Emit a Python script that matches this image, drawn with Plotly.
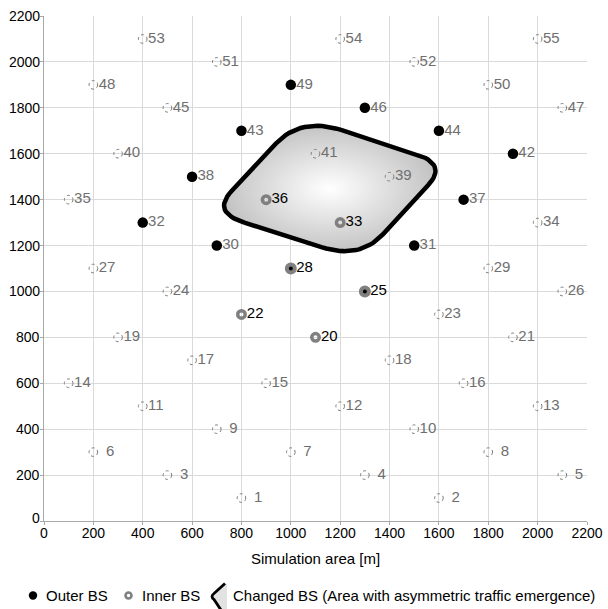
import plotly.graph_objects as go

# ---------------- data ----------------
bs_ids = list(range(1, 56))
bs_x = [800, 1600, 500, 1300, 2100, 200, 1000, 1800, 700, 1500,
        400, 1200, 2000, 100, 900, 1700, 600, 1400, 300, 1100,
        1900, 800, 1600, 500, 1300, 2100, 200, 1000, 1800, 700,
        1500, 400, 1200, 2000, 100, 900, 1700, 600, 1400, 300,
        1100, 1900, 800, 1600, 500, 1300, 2100, 200, 1000, 1800,
        700, 1500, 400, 1200, 2000]
bs_y = [100, 100, 200, 200, 200, 300, 300, 300, 400, 400,
        500, 500, 500, 600, 600, 600, 700, 700, 800, 800,
        800, 900, 900, 1000, 1000, 1000, 1100, 1100, 1100, 1200,
        1200, 1300, 1300, 1300, 1400, 1400, 1400, 1500, 1500, 1600,
        1600, 1600, 1700, 1700, 1800, 1800, 1800, 1900, 1900, 1900,
        2000, 2000, 2100, 2100, 2100]

outer_ids = [30, 31, 32, 37, 38, 42, 43, 44, 46, 49]
inner_ids = [20, 22, 33, 36]
changed_ids = [25, 28]

# vertices of changed-BS area (parallelogram, rounded corners)
area_x = [680, 1040, 1635, 1280]
area_y = [1345, 1760, 1555, 1140]

x_ticks = list(range(0, 2201, 200))
y_ticks = list(range(0, 2201, 200))

legend_names = ["Outer BS", "Inner BS",
                "Changed BS (Area with asymmetric traffic emergence)"]

# ---------------- helpers ----------------
pos = {i: (x, y) for i, x, y in zip(bs_ids, bs_x, bs_y)}
special = set(outer_ids) | set(inner_ids) | set(changed_ids)
regular_ids = [i for i in bs_ids if i not in special]


def rounded_polygon(xs, ys, fracs, n=16):
    px, py = [], []
    m = len(xs)
    for k in range(m):
        f = fracs[k]
        xp, yp = xs[k - 1], ys[k - 1]
        xc, yc = xs[k], ys[k]
        xn, yn = xs[(k + 1) % m], ys[(k + 1) % m]
        ax, ay = xc + (xp - xc) * f, yc + (yp - yc) * f
        bx, by = xc + (xn - xc) * f, yc + (yn - yc) * f
        for j in range(n + 1):
            t = j / n
            px.append((1 - t) ** 2 * ax + 2 * (1 - t) * t * xc + t ** 2 * bx)
            py.append((1 - t) ** 2 * ay + 2 * (1 - t) * t * yc + t ** 2 * by)
    px.append(px[0])
    py.append(py[0])
    return px, py


def label(i):
    return ("\u00a0\u2009" + str(i)) if i < 10 else str(i)


FONT = "Liberation Sans, Arial, sans-serif"
GRAY_TXT = "#6f6f6f"
RING = "#808080"

W, H = 608, 609
ML, MR, MT, MB = 44, 21, 16, 88
PW, PH = W - ML - MR, H - MT - MB


def px2paper(px, py):
    return (px - ML) / PW, (H - MB - py) / PH


fig = go.Figure()

# changed area
ax_, ay_ = rounded_polygon(area_x, area_y, [0.22, 0.28, 0.22, 0.26])
fig.add_trace(go.Scatter(
    x=ax_, y=ay_, mode="lines", fill="toself",
    fillgradient=dict(type="radial",
                      colorscale=[[0, "#ffffff"], [1, "#c4c4c4"]]),
    line=dict(color="black", width=4.5),
    hoverinfo="skip"))

# outer BS
fig.add_trace(go.Scatter(
    x=[pos[i][0] for i in outer_ids], y=[pos[i][1] for i in outer_ids],
    mode="markers", marker=dict(size=10.5, color="black", line=dict(width=0))))

# inner BS
fig.add_trace(go.Scatter(
    x=[pos[i][0] for i in inner_ids], y=[pos[i][1] for i in inner_ids],
    mode="markers",
    marker=dict(size=7.5, symbol="circle-open", color=RING,
                line=dict(width=3.5, color=RING))))

# changed BS (outer + inner)
fig.add_trace(go.Scatter(
    x=[pos[i][0] for i in changed_ids], y=[pos[i][1] for i in changed_ids],
    mode="markers",
    marker=dict(size=8, color="black", line=dict(width=4, color=RING))))

# labels
for ids, col in [(regular_ids + outer_ids, GRAY_TXT),
                  (inner_ids + changed_ids, "black")]:
    fig.add_trace(go.Scatter(
        x=[pos[i][0] for i in ids], y=[pos[i][1] for i in ids],
        mode="markers+text", text=[label(i) for i in ids],
        textposition="middle right",
        textfont=dict(color=col, size=15, family=FONT),
        marker=dict(size=7, color="rgba(0,0,0,0)"),
        hoverinfo="skip"))

# dotted circles for regular BS
for i in regular_ids:
    x, y = pos[i]
    fig.add_shape(type="circle", xref="x", yref="y",
                  xsizemode="pixel", ysizemode="pixel",
                  xanchor=x, yanchor=y, x0=-4.3, x1=4.3, y0=-4.3, y1=4.3,
                  line=dict(color="#7a7a7a", width=1, dash="dot"),
                  layer="above")

# y tick labels (placed close to the axis, as in the reference)
for v in y_ticks:
    fig.add_annotation(x=0, y=v, xref="paper", yref="y", text=str(v),
                       showarrow=False, xanchor="right", yanchor="middle",
                       xshift=-2, yshift=3 if v == 0 else 0,
                       font=dict(size=14, color="black", family=FONT))

# ---------- manual legend ----------
LY = 595.5
ax0, ay0 = px2paper(33, LY)
fig.add_shape(type="circle", xref="paper", yref="paper",
              xsizemode="pixel", ysizemode="pixel", xanchor=ax0, yanchor=ay0,
              x0=-4.2, x1=4.2, y0=-4.2, y1=4.2,
              fillcolor="black", line=dict(width=0))
ax1, ay1 = px2paper(128.5, LY)
fig.add_shape(type="circle", xref="paper", yref="paper",
              xsizemode="pixel", ysizemode="pixel", xanchor=ax1, yanchor=ay1,
              x0=-3, x1=3, y0=-3, y1=3,
              fillcolor="rgba(0,0,0,0)", line=dict(width=2.6, color=RING))
ax2, ay2 = px2paper(217, LY + 1)
fig.add_shape(type="path", xref="paper", yref="paper",
              xsizemode="pixel", ysizemode="pixel", xanchor=ax2, yanchor=ay2,
              path="M 8,13 L -3,3 Q -7,0 -3,-3 L 5,-15 L 10,-15 L 10,13 Z",
              fillcolor="#e2e2e2", line=dict(width=0))
fig.add_shape(type="path", xref="paper", yref="paper",
              xsizemode="pixel", ysizemode="pixel", xanchor=ax2, yanchor=ay2,
              path="M 8,13 L -3,3 Q -7,0 -3,-3 L 5,-15",
              line=dict(width=2.8, color="black"))

for name, tx in zip(legend_names, [45, 140.5, 231.5]):
    px_, py_ = px2paper(tx, LY)
    fig.add_annotation(x=px_, y=py_, xref="paper", yref="paper",
                       text=name, showarrow=False, xanchor="left",
                       yanchor="middle", xshift=-1,
                       font=dict(size=15, color="black", family=FONT))

axis_common = dict(
    showgrid=True, gridcolor="#dadada", gridwidth=1,
    showline=True, linecolor="#a8a8a8", linewidth=1,
    zeroline=False, ticks="outside", ticklen=3, tickcolor="#a8a8a8",
    tickfont=dict(size=14, color="black", family=FONT),
    automargin=False,
)

fig.update_layout(
    width=W, height=H, showlegend=False,
    margin=dict(l=ML, r=MR, t=MT, b=MB, autoexpand=False),
    paper_bgcolor="white", plot_bgcolor="white",
    font=dict(family=FONT, size=15, color="black"),
    xaxis=dict(range=[0, 2200], tickvals=x_ticks, ticklabelstandoff=-4,
               title=dict(text="Simulation area [m]", standoff=13,
                          font=dict(size=15, color="black")),
               **axis_common),
    yaxis=dict(range=[0, 2200], tickvals=y_ticks, showticklabels=False,
               **axis_common),
)

fig.write_html("out.html",
               config={"displayModeBar": False, "staticPlot": True},
               post_script="document.body.style.margin='0px';"
                           "document.body.style.overflow='hidden';")
